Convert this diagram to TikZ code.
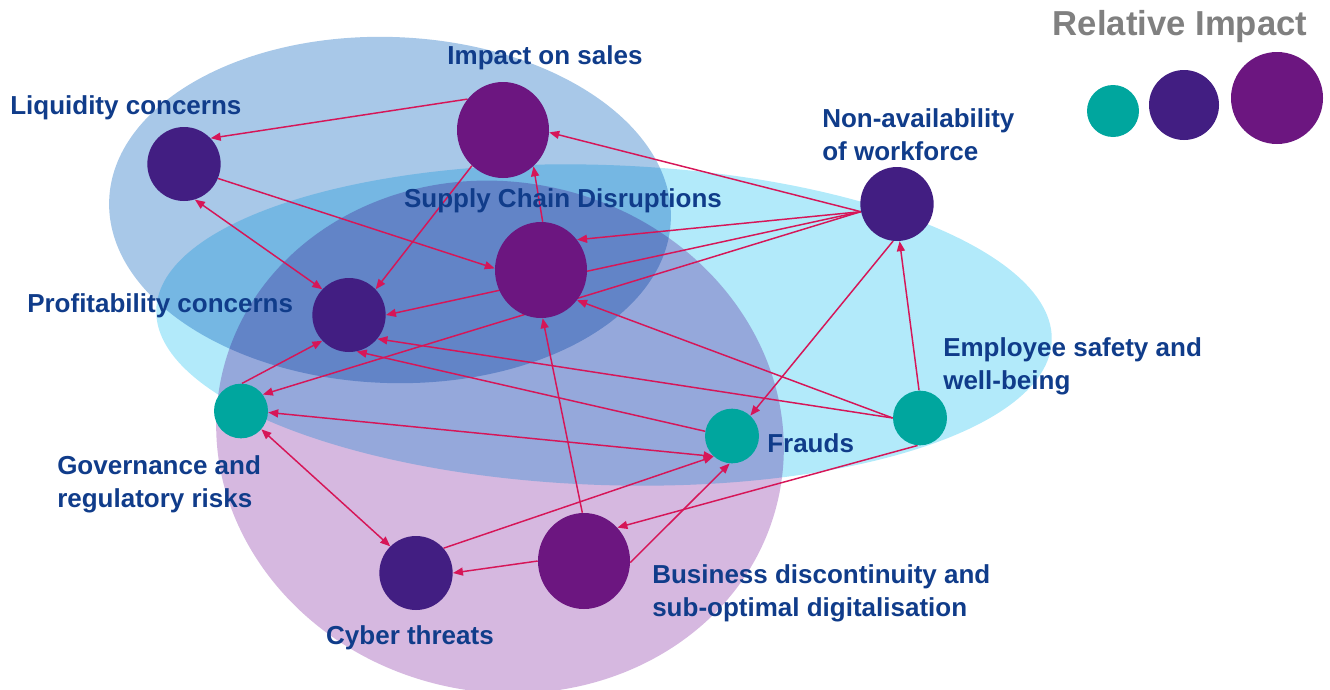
\documentclass[tikz,border=0pt]{standalone}
\usepackage{fontspec}
\setmainfont{Liberation Sans}
\usepackage{tikz}
\usetikzlibrary{shapes.geometric,arrows.meta}
\pgfdeclarelayer{blobs}
\pgfdeclarelayer{links}
\pgfsetlayers{blobs,links,main}

\begin{document}
\begin{tikzpicture}[x=0.75pt,y=0.75pt,yscale=-1,xscale=1,
  >={Triangle[length=7.5pt,width=6pt]},
  blobblue/.style={fill={rgb, 255:red, 168; green, 200; blue, 232}},
  blobcyan/.style={fill={rgb, 255:red, 178; green, 234; blue, 250}},
  blobpink/.style={fill={rgb, 255:red, 214; green, 184; blue, 224}},
  dotS/.style={ellipse,inner sep=0pt,minimum width=40.5pt,minimum height=41pt,fill={rgb, 255:red, 0; green, 166; blue, 158}},
  dotM/.style={ellipse,inner sep=0pt,minimum width=55pt,minimum height=55.5pt,fill={rgb, 255:red, 66; green, 30; blue, 130}},
  dotL/.style={ellipse,inner sep=0pt,minimum width=69pt,minimum height=72pt,fill={rgb, 255:red, 108; green, 22; blue, 128}},
  link/.style={draw={rgb, 255:red, 214; green, 22; blue, 88},line width=1.1pt},
  txt/.style={inner sep=0pt,align=left,text={rgb, 255:red, 16; green, 60; blue, 138},font=\fontsize{19.5}{24.75}\selectfont\bfseries}]
  \useasboundingbox (0,0) rectangle (1330,689);

  % Ellipses behind
  \begin{pgfonlayer}{blobs}
  \begin{scope}[blend group=multiply]
    \fill [blobblue, rotate around={2:(390,210)}] (390,210) ellipse [x radius=281, y radius=173];
    \fill [blobcyan, rotate around={2:(604,325)}] (604,325) ellipse [x radius=448, y radius=160];
    \fill [blobpink, rotate around={12:(500,437)}] (500,437) ellipse [x radius=285, y radius=255];
  \end{scope}
  \end{pgfonlayer}

  % Risk nodes
  \node [dotL] (is) at (503,130) {};
  \node [dotM] (lc) at (184,164) {};
  \node [dotL] (sc) at (541,270) {};
  \node [dotM] (pc) at (349,315) {};
  \node [dotS] (gr) at (241,411) {};
  \node [dotS] (fr) at (732,436) {};
  \node [dotS] (em) at (920,418) {};
  \node [dotM] (ct) at (416,573) {};
  \node [dotL] (bd) at (584,561) {};
  \node [dotM] (nw) at (897,204) {};

  % Legend
  \node [txt,text={rgb, 255:red, 128; green, 128; blue, 128},font=\fontsize{26}{30}\selectfont\bfseries] (key) at (1180,27) {Relative Impact};
  \node [dotS,minimum width=39pt,minimum height=39pt] (keyS) at (1113,111) {};
  \node [dotM,minimum width=52.5pt,minimum height=52.5pt] (keyM) at (1184,105) {};
  \node [dotL,minimum width=69pt,minimum height=69pt] (keyL) at (1277,98) {};

  % Text Nodes
  \node [txt] (t-is) at (545,58) {Impact on sales};
  \node [txt,anchor=west] (t-lc) at (10,108) {Liquidity concerns};
  \node [txt,anchor=west] (t-nw) at (822,135) {Non-availability\\of workforce};
  \node [txt] (t-sc) at (563,201) {Supply Chain Disruptions};
  \node [txt,anchor=west] (t-pc) at (27,306) {Profitability concerns};
  \node [txt,anchor=west] (t-em) at (943,366) {Employee safety and\\well-being};
  \node [txt,anchor=west] (t-fr) at (767,443) {Frauds};
  \node [txt,anchor=west] (t-gr) at (57,484) {Governance and\\regulatory risks};
  \node [txt,anchor=west] (t-bd) at (652,593) {Business discontinuity and\\sub-optimal digitalisation};
  \node [txt] (t-ct) at (410,638) {Cyber threats};

  % Arrows
  \begin{pgfonlayer}{links}
    \draw [link,->] (is.139) -- (lc.44);
    \draw [link,->] (is.229) -- (pc.44);
    \draw [link,->] (sc.88) -- (is.-50);
    \draw [link,->] (lc.-23) -- (sc.178);
    \draw [link,<->] (lc.-73) -- (pc.136);
    \draw [link,->] (gr.88) -- (pc.224);
    \draw [link,->] (nw.192) -- (is.-3);
    \draw [link,->] (nw.192) -- (sc.40);
    \draw [link,->] (nw.192) -- (pc.0);
    \draw [link,->] (nw.192) -- (gr.37);
    \draw [link,->] (nw.-96) -- (fr.48);
    \draw [link,->] (em.92) -- (nw.-86);
    \draw [link,->] (em.180) -- (sc.-40);
    \draw [link,->] (em.180) -- (pc.-40);
    \draw [link,->] (em.-95) -- (bd.45);
    \draw [link,->] (fr.170) -- (pc.-78);
    \draw [link,<->] (gr.-3) -- (fr.228);
    \draw [link,->] (ct.42) -- (fr.228);
    \draw [link,->] (bd.-2) -- (fr.-95);
    \draw [link,->] (bd.180) -- (ct.0);
    \draw [link,->] (bd.92) -- (sc.-88);
    \draw [link,<->] (gr.-42) -- (ct.134);
  \end{pgfonlayer}

\end{tikzpicture}
\end{document}
